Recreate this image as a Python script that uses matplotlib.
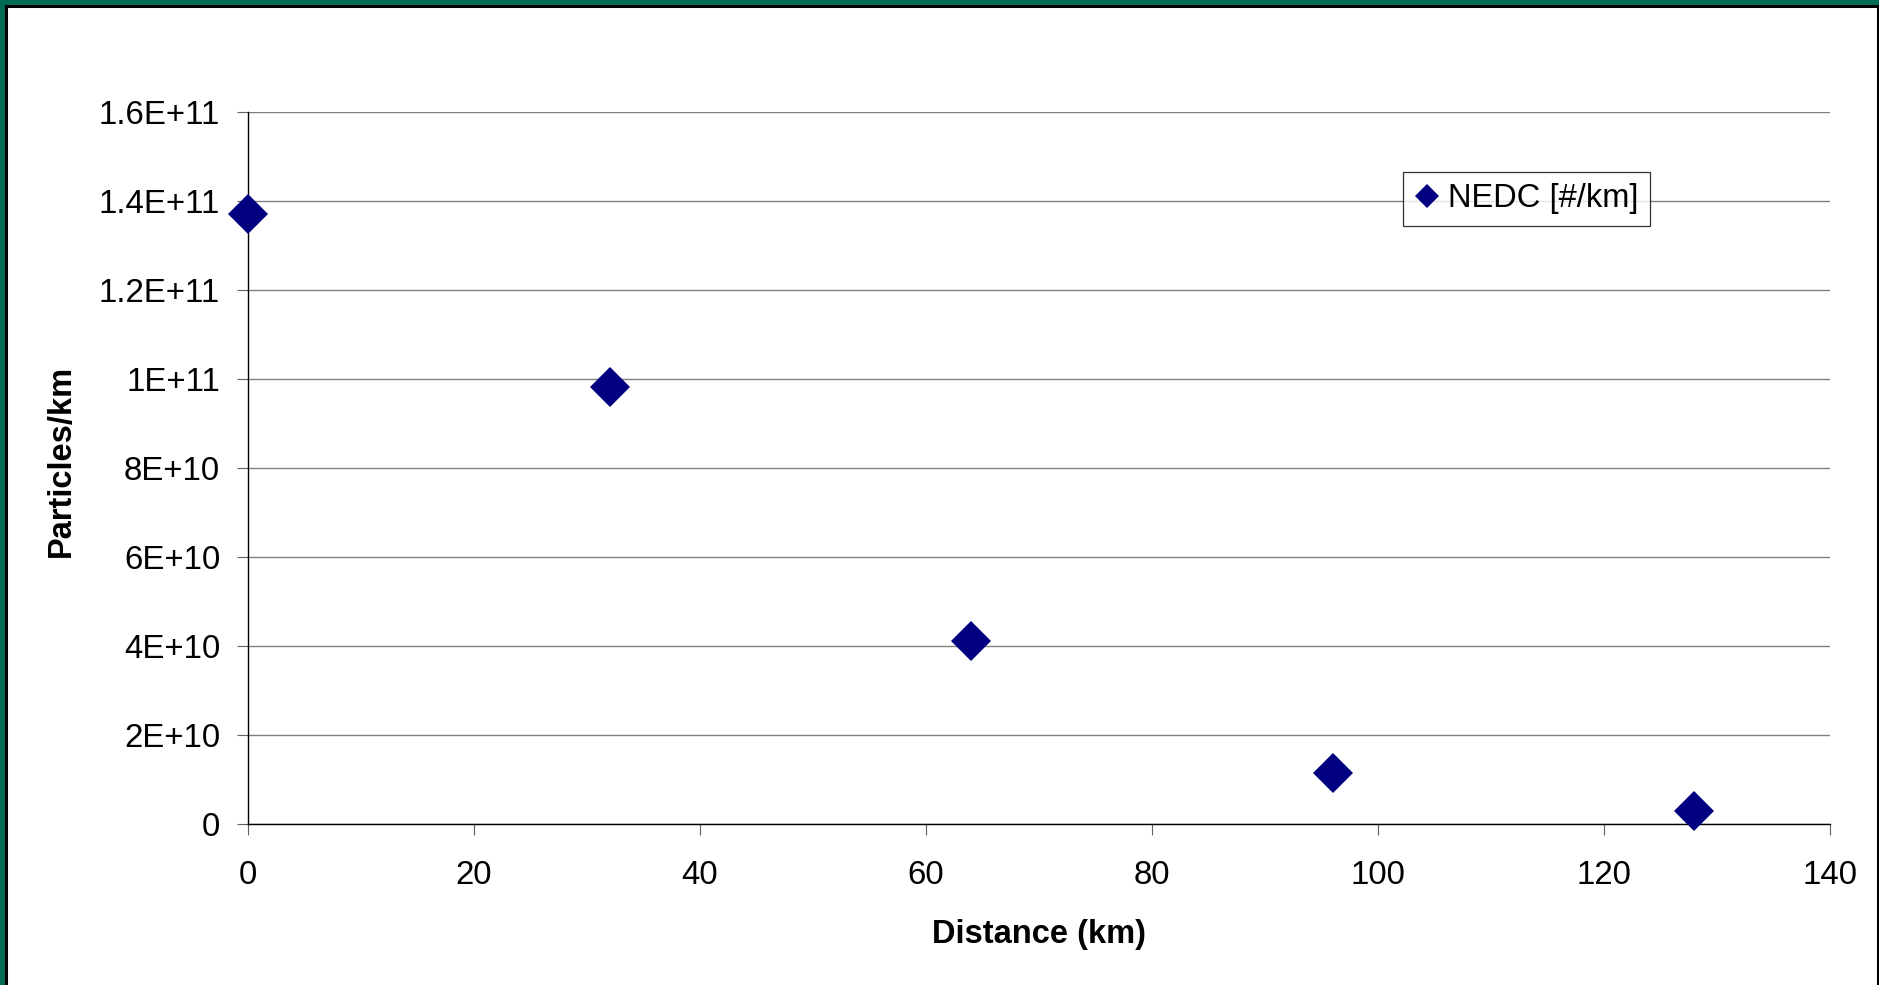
import matplotlib
matplotlib.use("Agg")
import matplotlib.pyplot as plt
from matplotlib.patches import Rectangle
from matplotlib.ticker import FuncFormatter
import numpy as np

plt.rcParams['font.family'] = ['Liberation Sans', 'DejaVu Sans']

distance_km = [0, 32, 64, 96, 128]
particles_per_km = [1.37e11, 9.83e10, 4.12e10, 1.15e10, 3.0e9]
series_name = 'NEDC [#/km]'

W, H = 1879, 985
fig = plt.figure(figsize=(W / 100, H / 100), dpi=100, facecolor='#006B55')

# white panel with black frame inside the green border
fig.patches.append(Rectangle((6 / W, -0.05), (1877.5 - 6) / W, (H - 6) / H + 0.05,
                             transform=fig.transFigure, facecolor='white',
                             edgecolor='black', linewidth=2.2, zorder=-1))

ax = fig.add_axes([248 / W, 1 - 824 / H, (1830 - 248) / W, (824 - 112) / H])
ax.set_facecolor('white')

ax.plot(distance_km, particles_per_km, linestyle='none', marker='D', markersize=20.2,
        color='#000080', markeredgewidth=0, clip_on=False, zorder=4, label=series_name)

ax.set_xlim(0, 140)
ax.set_ylim(0, 1.6e11)
ax.set_xticks(np.arange(0, 141, 20))
ax.set_yticks(np.arange(0, 1.7e11, 2e10))
ax.yaxis.set_major_formatter(FuncFormatter(lambda v, p: '0' if v == 0 else format(v, 'G')))

ax.grid(axis='y', color='#808080', linewidth=1.0)
ax.set_axisbelow(True)
for s in ['top', 'right']:
    ax.spines[s].set_visible(False)
for s in ['left', 'bottom']:
    ax.spines[s].set_color('black')
    ax.spines[s].set_linewidth(1.0)

ax.tick_params(axis='both', direction='out', length=8, width=0.8, color='#606060',
               labelsize=23.8)
ax.tick_params(axis='y', pad=12)
ax.tick_params(axis='x', pad=18)

ax.set_xlabel('Distance (km)', fontsize=23.5, fontweight='bold', labelpad=20)
ax.set_ylabel('Particles/km', fontsize=23.5, fontweight='bold')
ax.yaxis.set_label_coords(-0.108, 0.51)

leg = ax.legend(loc='upper left', bbox_to_anchor=(1403 / W, 1 - 172 / H),
                bbox_transform=fig.transFigure, fontsize=23.5, frameon=True,
                fancybox=False, shadow=False, borderaxespad=0, borderpad=0.35,
                handlelength=0.8, handletextpad=0.22, markerscale=0.6)
leg.get_frame().set_edgecolor('black')
leg.get_frame().set_linewidth(0.9)

fig.savefig('out.png', dpi=100, facecolor=fig.get_facecolor())
